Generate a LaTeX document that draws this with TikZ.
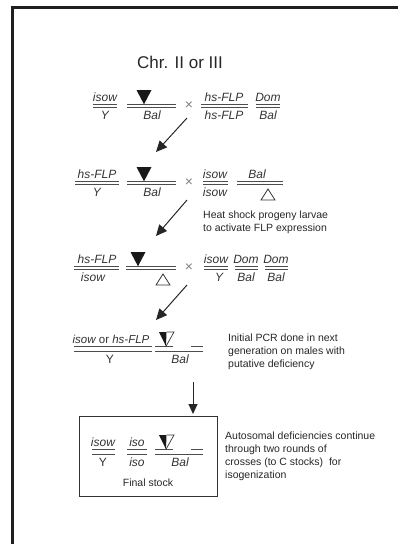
\documentclass[tikz,border=0pt]{standalone}
\usepackage{fontspec}
\setmainfont{Liberation Sans}
\usetikzlibrary{arrows.meta}
\newcommand{\dl}[4][1.7]{\draw[chrom] (#2,#4-#1) -- (#3,#4-#1) (#2,#4+#1) -- (#3,#4+#1);}
\newcommand{\ftri}[2]{\fill[black!90] (#1-7.5,#2-16) -- (#1+7.5,#2-16) -- (#1,#2-1.7) -- cycle;}
\newcommand{\otri}[2]{\draw[black!80, line width=0.8pt, line join=miter] (#1,#2+6) -- (#1+7,#2+17) -- (#1-7,#2+17) -- cycle;}
\newcommand{\delfrac}[1]{%
  \draw[chrom] (155,#1-2.7) -- (173,#1-2.7) (191,#1-2.7) -- (203,#1-2.7) (155,#1+2.7) -- (203,#1+2.7);
  \fill[black!90] (159,#1-17) -- (166.5,#1-17) -- (166,#1-2.7) -- cycle;
  \draw[black!80, line width=0.7pt] (166.5,#1-17) -- (174,#1-17) -- (166,#1-2.7);}
\begin{document}
\begin{tikzpicture}[x=1pt,y=-1pt,
  chrom/.style={draw=black!70, line width=0.9pt},
  lab/.style={font=\fontsize{12}{12}\selectfont\itshape, text=black!80, inner sep=0pt},
  labt/.style={lab, anchor=base},
  labb/.style={lab, anchor=north},
  note/.style={font=\fontsize{10.5}{12.8}\selectfont, text=black!85, inner sep=0pt, align=left, anchor=north west},
  cross/.style={font=\fontsize{14}{14}\selectfont, text=black!50, inner sep=0pt},
  arr/.style={-{Triangle[length=11pt,width=10pt]}, line width=1pt, draw=black!85},
  frame/.style={line width=3pt, draw=black!88},
]
\useasboundingbox (0,0) rectangle (398,544);
\draw[frame] (12.5,544) -- (12.5,7.5) -- (398,7.5);

\node[font=\fontsize{17}{17}\selectfont, text=black!85, inner sep=0pt] (title) at (180,62) {Chr. II or III};

% Row 1 (L=106)
\dl{93}{117}{106}
\node[labt] (r1a) at (105,101) {isow};
\node[labb] (r1b) at (105,111) {Y};
\dl{127}{176}{106}
\ftri{144}{106}
\node[labb] (r1c) at (152,111) {Bal};
\node[cross] (x1) at (189,106) {×};
\dl{201}{248}{106}
\node[labt] (r1d) at (224,101) {hs-FLP};
\node[labb] (r1e) at (224,111) {hs-FLP};
\dl{256}{280}{106}
\node[labt] (r1f) at (268,101) {Dom};
\node[labb] (r1g) at (268,111) {Bal};

\coordinate (a1s) at (187,118);
\coordinate (a1e) at (156,152);
\draw[arr] (a1s) -- (a1e);

% Row 2 (L=183)
\dl{75}{119}{183}
\node[labt] (r2a) at (97,178) {hs-FLP};
\node[labb] (r2b) at (97,188) {Y};
\dl{127}{176}{183}
\ftri{144}{183}
\node[labb] (r2c) at (152,188) {Bal};
\node[cross] (x2) at (189,183) {×};
\dl{203}{228}{183}
\node[labt] (r2d) at (215,178) {isow};
\node[labb] (r2e) at (215,188) {isow};
\dl{237}{283}{183}
\node[labt] (r2f) at (257,178) {Bal};
\otri{268}{183}

\coordinate (a2s) at (187,200);
\coordinate (a2e) at (156,236);
\draw[arr] (a2s) -- (a2e);
\node[note] (n1) at (203,211) {Heat shock progeny larvae\\to activate FLP expression};

% Row 3 (L=268)
\dl{74}{119}{268}
\node[labt] (r3a) at (97,263) {hs-FLP};
\node[labb] (r3b) at (93,273) {isow};
\dl{126}{176}{268}
\ftri{138}{268}
\otri{163}{268}
\node[cross] (x3) at (189,268) {×};
\dl{204}{228}{268}
\node[labt] (r3c) at (216,263) {isow};
\node[labb] (r3d) at (219,273) {Y};
\dl{235}{258}{268}
\node[labt] (r3e) at (246,263) {Dom};
\node[labb] (r3f) at (246,273) {Bal};
\dl{265}{288}{268}
\node[labt] (r3g) at (276,263) {Dom};
\node[labb] (r3h) at (276,273) {Bal};

\coordinate (a3s) at (187,285);
\coordinate (a3e) at (156,320);
\draw[arr] (a3s) -- (a3e);

% Row 4 (L=349)
\dl[2.7]{74}{152}{349}
\node[labt, font=\fontsize{11.5}{11.5}\selectfont\itshape] (r4a) at (111,343) {isow \upshape or \itshape hs-FLP};
\node[labb] (r4b) at (110,355) {\upshape Y};
\delfrac{349}
\node[labb] (r4c) at (180,355) {Bal};
\node[note] (n2) at (228,334) {Initial PCR done in next\\generation on males with\\putative deficiency};

\coordinate (a4s) at (193,382);
\coordinate (a4e) at (193,414);
\draw[arr, -{Triangle[length=10pt,width=9pt]}] (a4s) -- (a4e);

% Final stock box (L=452)
\node[draw=black!80, line width=1pt, minimum width=138, minimum height=80, inner sep=0pt] (box) at (148,456) {};
\dl[2.7]{92}{115}{452}
\node[labt] (b1) at (103,446) {isow};
\node[labb] (b2) at (103,458) {\upshape Y};
\dl[2.7]{127}{147}{452}
\node[labt] (b3) at (137,446) {iso};
\node[labb] (b4) at (137,458) {iso};
\delfrac{452}
\node[labb] (b5) at (180,458) {Bal};
\node[font=\fontsize{10.5}{10.5}\selectfont, text=black!85, inner sep=0pt] (fs) at (148,483) {Final stock};
\node[note] (n3) at (225,432) {Autosomal deficiencies continue\\through two rounds of\\crosses (to C stocks)\ \ for\\isogenization};
\end{tikzpicture}
\end{document}
